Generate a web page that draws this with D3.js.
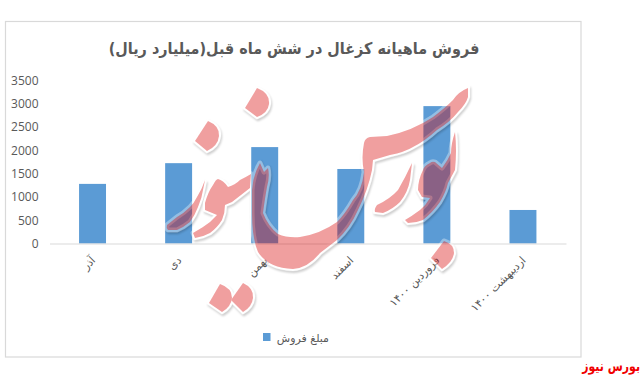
<!DOCTYPE html>
<html>
<head>
<meta charset="utf-8">
<script src="https://cdn.jsdelivr.net/npm/d3@7"></script>
<style>
    html, body { margin: 0; padding: 0; background: #fff; }
    svg { display: block; }
    .tick text { fill: #595959; }
</style>
</head>
<body>
<div id="chart"></div>
<script>
const months = ["آذر", "دی", "بهمن", "اسفند", "فروردین ۱۴۰۰", "اردیبهشت ۱۴۰۰"];
const sales = [1280, 1725, 2070, 1600, 2950, 720];
const yTicks = [0, 500, 1000, 1500, 2000, 2500, 3000, 3500];
const chartTitle = "فروش ماهیانه کزغال در شش ماه قبل(میلیارد ریال)";
const seriesName = "مبلغ فروش";
const sourceName = "بورس نیوز";

/* watermark outlines (decoration, not data) */
const watermark = [
    "M257,88 Q270,93 269,104 Q268,113 257,117 L245,108 Z",
    "M208,121 Q220,126 219,136 Q218,146 207,151 L195,141 Z",
    "M220,284 Q232,288 232,298 Q231,307 222,312 L209,303 Z",
    "M243,283 Q254,288 253,298 Q252,307 243,312 L231,300 Z",
    "M444,241 Q454,244 454,253 Q453,262 442,269 L431,258 Z",
    // big stroke and bowl
    "M468,88 Q458,92 453,100 Q445,108 433,117 Q412,131 387,136 L370,137 Q365,138 364,143 Q361,158 364,172 Q362,190 353,200 Q345,214 337,222 Q320,234 300,237 Q287,238 278,234 Q268,226 263,213 Q265,198 267,187 Q270,176 268,168 L264,172 L260,163 Q253,175 252,190 L252,213 Q252,238 258,252 Q268,268 293,269 Q308,268 320,253 L337,240 Q350,228 358,210 Q368,190 372,170 L373,160 L390,155 Q405,152 413,147 Q425,141 437,130 Q450,122 458,112 Q466,104 468,97 Z",
    // hump next to the bahman bar
    "M205,203 Q208,192 213,185 Q216,179 218,179 Q223,180 228,187 Q235,185 240,180 Q246,177 251,174 L250,188 Q241,195 232,202 L225,205 Q225,213 222,220 Q217,228 210,233 Q203,237 195,238 L193,233 Q198,230 203,227 Q211,222 217,215 L205,210 Z",
    // tail over the dey bar
    "M205,180 Q202,189 197,197 Q194,203 190,207 Q184,213 177,217 L167,225 Q166,228 168,230 L177,230 Q184,227 190,222 Q195,215 198,207 Q202,198 203,190 Z",
    // stroke between esfand and farvardin
    "M412,163 Q405,178 398,190 Q390,199 377,205 Q374,209 375,212 L383,213 Q393,209 400,202 Q408,192 410,180 Z",
    // loop on the farvardin bar
    "M455,132 Q451,144 451,153 Q448,160 442,168 L435,162 Q432,161 430,163 Q424,166 423,170 Q418,180 418,190 L422,197 L430,198 Q426,205 420,210 Q412,216 405,220 L408,223 Q416,223 423,220 Q433,212 440,202 Q446,192 448,183 L455,170 Q457,150 455,132 Z"
];

const margin = { left: 49.5, right: 566, top: 80.5, bottom: 243.5 };

const svg = d3.select("#chart")
    .append("svg")
    .attr("width", 643)
    .attr("height", 377);

var defs = svg.append("defs");
defs.append("filter")
    .attr("id", "soft")
    .append("feGaussianBlur")
    .attr("stdDeviation", 1);

/* keeps the shadow outside the shapes so the pink stays clean */
var outside = defs.append("mask")
    .attr("id", "outside")
    .attr("maskUnits", "userSpaceOnUse")
    .attr("x", 0)
    .attr("y", 0)
    .attr("width", 643)
    .attr("height", 377);
outside.append("rect")
    .attr("width", 643)
    .attr("height", 377)
    .attr("fill", "#fff");
outside.selectAll("path")
    .data(watermark)
    .join("path")
    .attr("d", d => d)
    .attr("fill", "#000")
    .attr("stroke", "#000")
    .attr("stroke-width", 4);

svg.append("rect")
    .attr("x", 5.5)
    .attr("y", 21.5)
    .attr("width", 575.5)
    .attr("height", 335.5)
    .attr("fill", "#fff")
    .attr("stroke", "#d9d9d9")
    .attr("stroke-width", 1.2);

svg.append("text")
    .attr("transform", "translate(294, 54) scale(0.9, 1)")
    .attr("text-anchor", "middle")
    .attr("font-family", "DejaVu Sans")
    .attr("font-weight", "bold")
    .attr("font-size", 16)
    .attr("fill", "#595959")
    .text(chartTitle);

var x = d3.scaleBand()
    .domain(months)
    .range([margin.left, margin.right])
    .paddingInner(0.687)
    .paddingOuter(0.3435);

var y = d3.scaleLinear()
    .domain([0, 3500])
    .range([margin.bottom, margin.top]);

var yAxis = svg.append("g")
    .attr("transform", `translate(${margin.left}, 0)`)
    .call(d3.axisLeft(y).tickValues(yTicks).tickFormat(d3.format("d")).tickSize(0).tickPadding(11))
yAxis.select(".domain").remove();
yAxis.selectAll("text")
    .attr("font-family", "Open Sans")
    .attr("font-size", 12);

svg.append("g")
    .selectAll("rect")
    .data(sales)
    .join("rect")
    .attr("x", (d, i) => x(months[i]))
    .attr("y", d => y(d))
    .attr("width", x.bandwidth())
    .attr("height", d => y(0) - y(d))
    .attr("fill", "#5b9bd5");

var xAxis = svg.append("g")
    .attr("transform", `translate(0, ${margin.bottom})`)
    .call(d3.axisBottom(x).tickSize(0).tickPadding(0))
xAxis.select(".domain")
    .attr("stroke", "#d9d9d9")
    .attr("stroke-width", 1.2);
xAxis.selectAll("text")
    .attr("font-family", "DejaVu Sans")
    .attr("font-size", 11)
    .attr("text-anchor", "end")
    .attr("dy", "0.32em")
    .attr("y", 0)
    .attr("transform", "translate(1, 15) rotate(-45)");

/* legend */
svg.append("rect")
    .attr("x", 263)
    .attr("y", 333)
    .attr("width", 7.5)
    .attr("height", 8)
    .attr("fill", "#5b9bd5");
svg.append("text")
    .attr("x", 329)
    .attr("y", 342)
    .attr("text-anchor", "end")
    .attr("font-family", "DejaVu Sans")
    .attr("font-size", 11)
    .attr("fill", "#595959")
    .text(seriesName);

/* watermark goes on top of the bars: shadow, white halo, then the colour */
svg.append("g")
    .attr("mask", "url(#outside)")
    .append("g")
    .attr("transform", "translate(1, 2)")
    .attr("opacity", 0.2)
    .attr("filter", "url(#soft)")
    .selectAll("path")
    .data(watermark)
    .join("path")
    .attr("d", d => d)
    .attr("fill", "none")
    .attr("stroke", "#000")
    .attr("stroke-width", 4);

svg.append("g")
    .attr("opacity", 0.35)
    .selectAll("path")
    .data(watermark)
    .join("path")
    .attr("d", d => d)
    .attr("fill", "none")
    .attr("stroke", "#fff")
    .attr("stroke-width", 5)
    .attr("stroke-linejoin", "round");

svg.append("g")
    .attr("opacity", 0.38)
    .selectAll("path")
    .data(watermark)
    .join("path")
    .attr("d", d => d)
    .attr("fill", "#d80505");

svg.append("text")
    .attr("transform", "translate(640, 371) scale(0.78, 1)")
    .attr("text-anchor", "end")
    .attr("font-family", "DejaVu Sans")
    .attr("font-weight", "bold")
    .attr("font-size", 14)
    .attr("fill", "#f00000")
    .text(sourceName);
</script>
</body>
</html>
